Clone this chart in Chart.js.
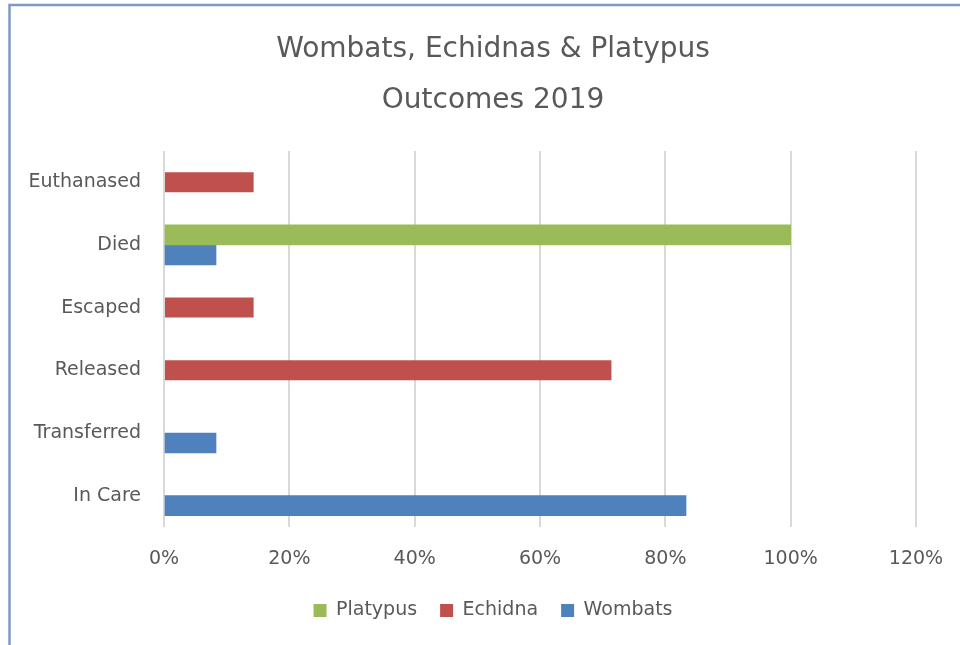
<!DOCTYPE html>
<html>
<head>
<meta charset="utf-8">
<script src="https://cdn.jsdelivr.net/npm/chart.js@4"></script>
<style>
  html, body { margin: 0; padding: 0; background: #fff; }
  canvas { display: block; }
</style>
</head>
<body>
<canvas id="outcomesChart" width="960" height="645"></canvas>
<script>
const categories = ['Euthanased', 'Died', 'Escaped', 'Released', 'Transferred', 'In Care'];
const platypusValues = [null, 100, null, null, null, null];
const echidnaValues = [14.3, null, 14.3, 71.4, null, null];
const wombatValues = [null, 8.3, null, null, 8.3, 83.3];
const titleLines = ['Wombats, Echidnas & Platypus', 'Outcomes 2019'];

const textColor = '#595959';
const fontFamily = '"DejaVu Sans", "Open Sans", sans-serif';

// thin frame along the top and left edges, like the original screenshot
const framePlugin = {
    id: 'frame',
    beforeDraw(chart) {
        const c = chart.ctx;
        c.save();
        c.strokeStyle = '#7f99c3';
        c.lineWidth = 2.5;
        c.beginPath();
        c.moveTo(9.5, chart.height);
        c.lineTo(9.5, 5);
        c.lineTo(chart.width, 5);
        c.stroke();
        c.restore();
    }
};

new Chart(document.getElementById('outcomesChart'), {
    type: 'bar',
    data: {
        labels: categories,
        datasets: [
            {
                label: 'Platypus',
                data: platypusValues,
                backgroundColor: '#9bbb59',
                barThickness: 20
            },
            {
                // Excel draws this series with 50% overlap, i.e. centred on the category
                label: 'Echidna',
                data: echidnaValues,
                backgroundColor: '#c0504d',
                grouped: false,
                maxBarThickness: 20
            },
            {
                label: 'Wombats',
                data: wombatValues,
                backgroundColor: '#4f81bd',
                barThickness: 20
            }
        ]
    },
    options: {
        indexAxis: 'y',
        responsive: false,
        animation: false,
        layout: {
            padding: { top: 14, left: 26, right: 0, bottom: 15 }
        },
        plugins: {
            title: {
                display: true,
                text: titleLines,
                color: textColor,
                font: { family: fontFamily, size: 28, weight: 'normal', lineHeight: 1.82 },
                padding: { top: 10, bottom: 25 }
            },
            legend: {
                position: 'bottom',
                labels: {
                    color: textColor,
                    font: { family: fontFamily, size: 19 },
                    boxWidth: 13,
                    boxHeight: 13,
                    padding: 23
                }
            },
            tooltip: { enabled: false }
        },
        scales: {
            x: {
                min: 0,
                max: 120,
                ticks: {
                    stepSize: 20,
                    color: textColor,
                    font: { family: fontFamily, size: 19 },
                    padding: 21,
                    callback: function(value) {
                        return value + '%';
                    }
                },
                grid: {
                    color: '#d9d9d9',
                    lineWidth: 2,
                    drawTicks: false
                },
                border: { display: false },
                afterFit: function(scale) {
                    scale.height = 51;
                    scale.paddingLeft = 0;
                    scale.paddingRight = 0;
                }
            },
            y: {
                ticks: {
                    color: textColor,
                    font: { family: fontFamily, size: 19 },
                    padding: 23
                },
                grid: { display: false, drawTicks: false },
                border: { display: false },
                afterFit: function(scale) {
                    scale.width = 138;
                }
            },
            // empty right-hand gutter so the plot ends at 120% where the original does
            gutter: {
                type: 'linear',
                position: 'right',
                ticks: { display: false },
                grid: { display: false, drawTicks: false },
                border: { display: false },
                afterFit: function(scale) {
                    scale.width = 44;
                }
            }
        }
    },
    plugins: [framePlugin]
});
</script>
</body>
</html>
